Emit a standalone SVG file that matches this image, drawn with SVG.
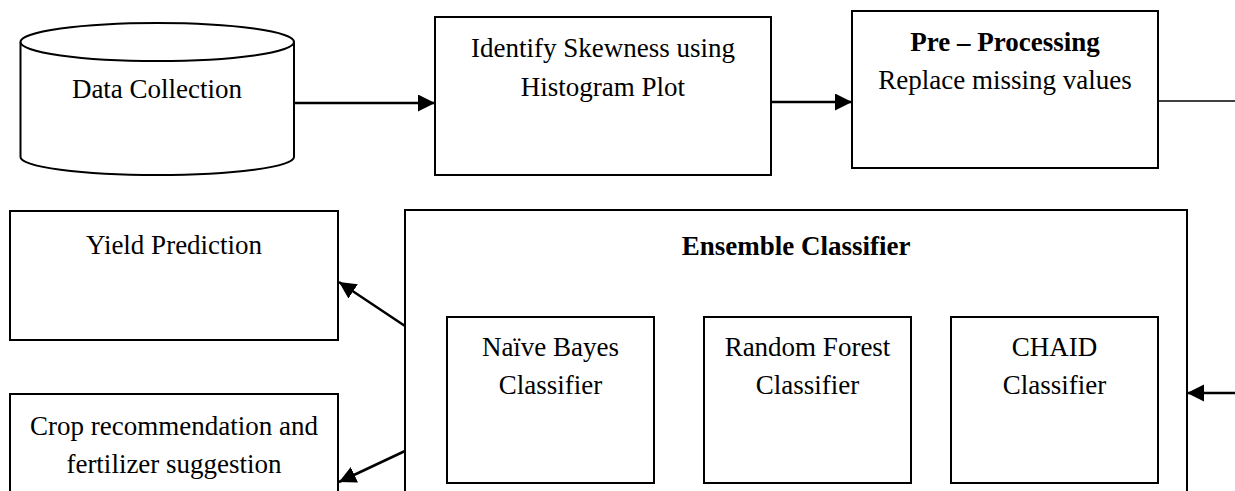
<svg xmlns="http://www.w3.org/2000/svg" width="1235" height="491" viewBox="0 0 1235 491">
<style>
.box{fill:#fff;stroke:#000;stroke-width:2}
.t{font-family:"Liberation Serif","Times New Roman",serif;font-size:27px;fill:#000;text-anchor:middle}
.b{font-weight:bold}
.c{fill:none;stroke:#000;stroke-width:2.5}
.thin{fill:none;stroke:#000;stroke-width:1.5}
</style>
<defs>
<marker id="ah" markerUnits="userSpaceOnUse" markerWidth="18" markerHeight="18" refX="17" refY="8.5" orient="auto">
<path d="M0,0 L17,8.5 L0,17 z" fill="#000"/>
</marker>
</defs>
<rect width="1235" height="491" fill="#fff"/>
<g id="connectors">
<line class="c" x1="294" y1="103" x2="435" y2="103" marker-end="url(#ah)"/>
<line class="c" x1="771" y1="102" x2="852" y2="102" marker-end="url(#ah)"/>
<line class="thin" x1="1158" y1="101" x2="1235" y2="101"/>
<line class="c" x1="1235" y1="393" x2="1187" y2="393" marker-end="url(#ah)"/>
<line class="c" x1="405" y1="326" x2="339" y2="282" marker-end="url(#ah)"/>
<line class="c" x1="405" y1="451" x2="339" y2="482" marker-end="url(#ah)"/>
</g>
<g id="data-collection">
<path class="box" d="M20.5,42 L20.5,157 A136.75,18 0 0 0 294,157 L294,42"/>
<ellipse class="box" cx="157.25" cy="42" rx="136.75" ry="19"/>
<text class="t" x="157" y="98">Data Collection</text>
</g>
<g id="identify-skewness">
<rect class="box" x="435" y="17" width="336" height="158"/>
<text class="t" x="603" y="57">Identify Skewness using</text>
<text class="t" x="603" y="96">Histogram Plot</text>
</g>
<g id="pre-processing">
<rect class="box" x="852" y="11" width="306" height="157"/>
<text class="t b" x="1005" y="51">Pre – Processing</text>
<text class="t" x="1005" y="89">Replace missing values</text>
</g>
<g id="yield-prediction">
<rect class="box" x="10" y="211" width="328" height="129"/>
<text class="t" x="174" y="254">Yield Prediction</text>
</g>
<g id="crop-recommendation">
<rect class="box" x="10" y="394" width="328" height="110"/>
<text class="t" x="174" y="435">Crop recommendation and</text>
<text class="t" x="174" y="473">fertilizer suggestion</text>
</g>
<g id="ensemble-classifier">
<rect class="box" x="405" y="210" width="782" height="300"/>
<text class="t b" x="796" y="255">Ensemble Classifier</text>
</g>
<g id="naive-bayes">
<rect class="box" x="447" y="317" width="207" height="166"/>
<text class="t" x="550.5" y="356">Naïve Bayes</text>
<text class="t" x="550.5" y="394">Classifier</text>
</g>
<g id="random-forest">
<rect class="box" x="704" y="317" width="207" height="166"/>
<text class="t" x="807.5" y="356">Random Forest</text>
<text class="t" x="807.5" y="394">Classifier</text>
</g>
<g id="chaid">
<rect class="box" x="951" y="317" width="207" height="166"/>
<text class="t" x="1054.5" y="356">CHAID</text>
<text class="t" x="1054.5" y="394">Classifier</text>
</g>
</svg>
